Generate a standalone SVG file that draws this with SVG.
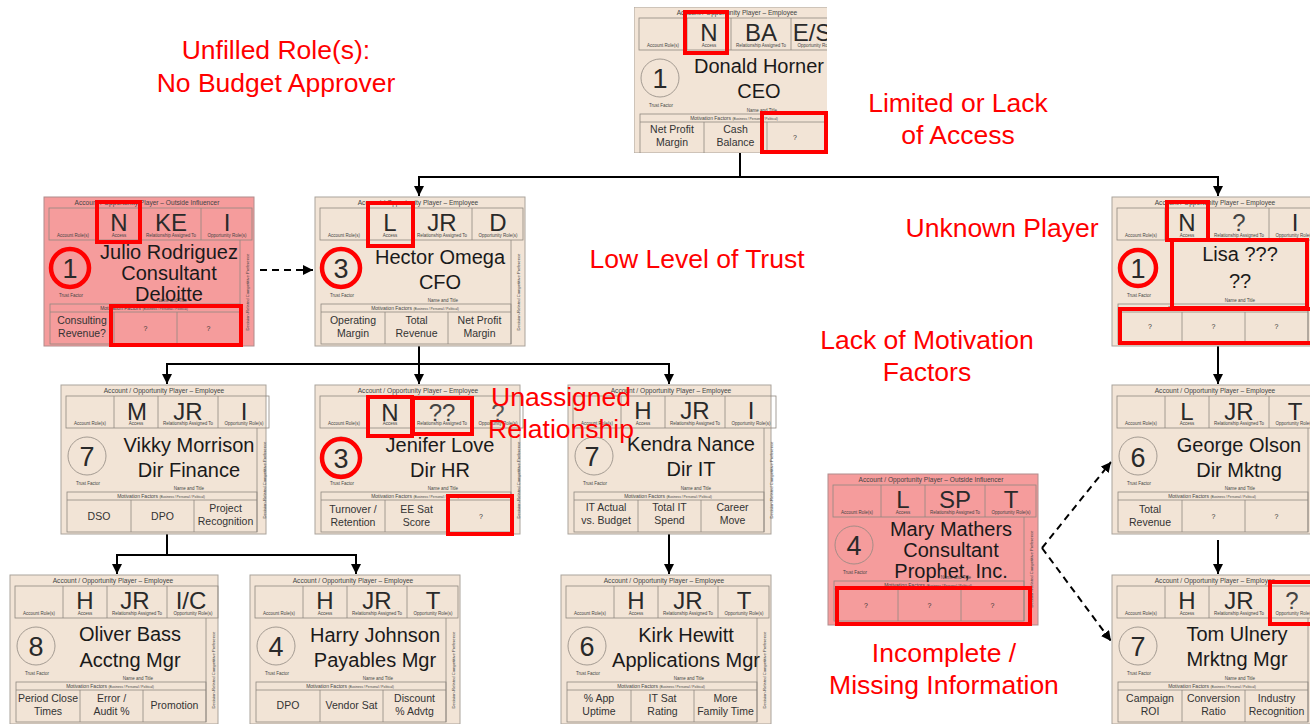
<svg xmlns="http://www.w3.org/2000/svg" xmlns:xlink="http://www.w3.org/1999/xlink" width="1310" height="724" viewBox="0 0 1310 724">
<style>
.bg{fill:#f2e4d6;stroke:#aaa39b;stroke-width:1}
.bgo{fill:#f59c9c;stroke:#b08c8c;stroke-width:1}
.ln{fill:none;stroke:#8f8880;stroke-width:0.8}
text{font-family:"Liberation Sans",Arial,sans-serif}
.lbl{font-size:4.5px;fill:#444;text-anchor:middle}
.hdr{font-size:6.6px;fill:#444;text-anchor:middle}
.big{font-size:24px;fill:#2a2a2a;text-anchor:middle}
.num{font-size:27px;fill:#2a2a2a;text-anchor:middle}
.nm{font-size:20px;fill:#1a1a1a;text-anchor:middle}
.mot{font-size:10.5px;fill:#333;text-anchor:middle}
.q{font-size:7px;fill:#333;text-anchor:middle}
.hl{fill:none;stroke:#ff0000;stroke-width:4}
.ann{font-size:26.5px;fill:#ff0000;text-anchor:middle}
.con{stroke:#000;stroke-width:2;fill:none}
.dash{stroke-dasharray:7 5}
</style>
<defs>
<marker id="ah" viewBox="0 0 10 10" refX="10" refY="5" markerWidth="5" markerHeight="5" orient="auto" markerUnits="strokeWidth">
<path d="M0,0 L10,5 L0,10 z" fill="#000"/>
</marker>
<clipPath id="ceoclip"><rect x="0" y="0" width="193" height="146"/></clipPath>
<g id="frame">
<rect class="ln" x="5" y="11" width="203" height="32"/>
<path class="ln" d="M53,11V43M97,11V43M157,11V43M196,43V147M6,115H196M70,115V147M133,115V147"/>
<rect class="ln" x="6" y="107" width="190" height="40"/>
<circle class="ln" cx="26" cy="71" r="19"/>
<text class="lbl" x="29" y="40">Account Role(s)</text>
<text class="lbl" x="75" y="40">Access</text>
<text class="lbl" x="127" y="40">Relationship Assigned To</text>
<text class="lbl" x="183" y="40">Opportunity Role(s)</text>
<text class="lbl" x="27" y="100">Trust Factor</text>
<text class="lbl" x="128" y="105">Name and Title</text>
<text class="lbl" x="100" y="113" style="font-size:5px">Motivation Factors <tspan style="font-size:3.3px">(Business / Personal / Political)</tspan></text>
<text class="lbl" transform="translate(205,95) rotate(-90)" style="font-size:4.2px">Decision-Related Competitive Preference</text>
</g>
</defs>

<g id="annotations">
<text class="ann" x="276" y="59">Unfilled Role(s):</text>
<text class="ann" x="276" y="92">No Budget Approver</text>
<text class="ann" x="958" y="112">Limited or Lack</text>
<text class="ann" x="958" y="144">of Access</text>
<text class="ann" x="1002" y="237">Unknown Player</text>
<text class="ann" x="697" y="268">Low Level of Trust</text>
<text class="ann" x="927" y="349">Lack of Motivation</text>
<text class="ann" x="927" y="381">Factors</text>
<text class="ann" x="944" y="662">Incomplete /</text>
<text class="ann" x="944" y="694">Missing Information</text>
</g>

<g id="connectors">
<path class="con" d="M740,152V177"/>
<path class="con" d="M419,177H1218"/>
<path class="con" d="M419,176V196" marker-end="url(#ah)"/>
<path class="con" d="M1218,176V196" marker-end="url(#ah)"/>
<path class="con dash" d="M260,270H313" marker-end="url(#ah)"/>
<path class="con" d="M419,346V364"/>
<path class="con" d="M167,364H669"/>
<path class="con" d="M167,363V384" marker-end="url(#ah)"/>
<path class="con" d="M419,363V384" marker-end="url(#ah)"/>
<path class="con" d="M669,363V384" marker-end="url(#ah)"/>
<path class="con" d="M167,534V555"/>
<path class="con" d="M117,555H356"/>
<path class="con" d="M117,554V574" marker-end="url(#ah)"/>
<path class="con" d="M356,554V574" marker-end="url(#ah)"/>
<path class="con" d="M669,534V574" marker-end="url(#ah)"/>
<path class="con" d="M1218,346V384" marker-end="url(#ah)"/>
<path class="con" d="M1218,540V574" marker-end="url(#ah)"/>
<path class="con dash" d="M1042,548L1111,462" marker-end="url(#ah)"/>
<path class="con dash" d="M1042,548L1111,641" marker-end="url(#ah)"/>
</g>

<g id="ceo" transform="translate(634,7)">
<g clip-path="url(#ceoclip)">
<rect class="bg" x="0" y="0" width="210" height="146"/>
<text class="hdr" x="103" y="8">Account / Opportunity Player – Employee</text>
<use xlink:href="#frame"/>
<text class="big" x="75" y="34">N</text>
<text class="big" x="127" y="34">BA</text>
<text class="big" x="178" y="34">E/S</text>
<text class="num" x="26" y="81">1</text>
<text class="nm" x="125" y="66">Donald Horner</text>
<text class="nm" x="125" y="91">CEO</text>
<text class="mot" x="38" y="126">Net Profit</text>
<text class="mot" x="38" y="139">Margin</text>
<text class="mot" x="101.5" y="126">Cash</text>
<text class="mot" x="101.5" y="139">Balance</text>
<text class="q" x="161" y="133">?</text>
</g>
<rect class="hl" x="51" y="5" width="42" height="41"/>
<rect class="hl" x="128" y="106" width="64" height="39"/>
</g>

<g id="julio" transform="translate(44,197)">
<rect class="bgo" x="0" y="0" width="210" height="149"/>
<text class="hdr" x="103" y="8">Account / Opportunity Player – Outside Influencer</text>
<use xlink:href="#frame"/>
<text class="big" x="75" y="34">N</text>
<text class="big" x="127" y="34">KE</text>
<text class="big" x="183" y="34">I</text>
<circle class="hl" cx="26" cy="71" r="19" style="stroke-width:4.5"/>
<text class="num" x="26" y="81">1</text>
<text class="nm" x="125" y="62">Julio Rodriguez</text>
<text class="nm" x="125" y="83">Consultant</text>
<text class="nm" x="125" y="104">Deloitte</text>
<text class="mot" x="38" y="127">Consulting</text>
<text class="mot" x="38" y="140">Revenue?</text>
<text class="q" x="101.5" y="134">?</text>
<text class="q" x="164.5" y="134">?</text>
<rect class="hl" x="53" y="5" width="43" height="40"/>
<rect class="hl" x="67" y="109" width="130" height="39"/>
</g>

<g id="hector" transform="translate(315,197)">
<rect class="bg" x="0" y="0" width="210" height="149"/>
<text class="hdr" x="103" y="8">Account / Opportunity Player – Employee</text>
<use xlink:href="#frame"/>
<text class="big" x="75" y="34">L</text>
<text class="big" x="127" y="34">JR</text>
<text class="big" x="183" y="34">D</text>
<circle class="hl" cx="26" cy="71" r="19" style="stroke-width:4.5"/>
<text class="num" x="26" y="81">3</text>
<text class="nm" x="125" y="67">Hector Omega</text>
<text class="nm" x="125" y="92">CFO</text>
<text class="mot" x="38" y="127">Operating</text>
<text class="mot" x="38" y="140">Margin</text>
<text class="mot" x="101.5" y="127">Total</text>
<text class="mot" x="101.5" y="140">Revenue</text>
<text class="mot" x="164.5" y="127">Net Profit</text>
<text class="mot" x="164.5" y="140">Margin</text>
<rect class="hl" x="53" y="6" width="45" height="43"/>
</g>

<g id="lisa" transform="translate(1112,197)">
<rect class="bg" x="0" y="0" width="210" height="149"/>
<text class="hdr" x="103" y="8">Account / Opportunity Player – Employee</text>
<use xlink:href="#frame"/>
<text class="big" x="75" y="34">N</text>
<text class="big" x="127" y="34" style="fill:#444">?</text>
<text class="big" x="183" y="34">I</text>
<circle class="hl" cx="26" cy="71" r="18" style="stroke-width:4.5"/>
<text class="num" x="26" y="81">1</text>
<text class="nm" x="128" y="64">Lisa ???</text>
<text class="nm" x="128" y="91">??</text>
<text class="q" x="38" y="132">?</text>
<text class="q" x="101.5" y="132">?</text>
<text class="q" x="164.5" y="132">?</text>
<rect class="hl" x="55" y="5" width="41" height="38"/>
<rect class="hl" x="60" y="43" width="135" height="68"/>
<rect class="hl" x="8" y="112" width="192" height="34"/>
</g>

<g id="vikky" transform="translate(61,385)">
<rect class="bg" x="0" y="0" width="205" height="149"/>
<text class="hdr" x="103" y="8">Account / Opportunity Player – Employee</text>
<use xlink:href="#frame"/>
<text class="big" x="76" y="35">M</text>
<text class="big" x="127" y="35">JR</text>
<text class="big" x="183" y="35">I</text>
<text class="num" x="26" y="81">7</text>
<text class="nm" x="128" y="67">Vikky Morrison</text>
<text class="nm" x="128" y="92">Dir Finance</text>
<text class="mot" x="38" y="135">DSO</text>
<text class="mot" x="101.5" y="135">DPO</text>
<text class="mot" x="164.5" y="127">Project</text>
<text class="mot" x="164.5" y="140">Recognition</text>
</g>

<g id="jenifer" transform="translate(315,385)">
<rect class="bg" x="0" y="0" width="205" height="149"/>
<text class="hdr" x="103" y="8">Account / Opportunity Player – Employee</text>
<use xlink:href="#frame"/>
<text class="big" x="75" y="36">N</text>
<text class="big" x="127" y="36" style="fill:#444">??</text>
<text class="big" x="183" y="36" style="fill:#555">?</text>
<circle class="hl" cx="26" cy="73" r="19" style="stroke-width:4.5"/>
<text class="num" x="26" y="83">3</text>
<text class="nm" x="125" y="67">Jenifer Love</text>
<text class="nm" x="125" y="92">Dir HR</text>
<text class="mot" x="38" y="128">Turnover /</text>
<text class="mot" x="38" y="141">Retention</text>
<text class="mot" x="101.5" y="128">EE Sat</text>
<text class="mot" x="101.5" y="141">Score</text>
<text class="q" x="166" y="134">?</text>
<rect class="hl" x="53" y="12" width="44" height="39"/>
<rect class="hl" x="98" y="13" width="59" height="36"/>
<rect class="hl" x="133" y="111" width="64" height="38"/>
</g>

<g id="kendra" transform="translate(568,385)">
<rect class="bg" x="0" y="0" width="203" height="149"/>
<text class="hdr" x="103" y="8">Account / Opportunity Player – Employee</text>
<use xlink:href="#frame"/>
<text class="big" x="75" y="34">H</text>
<text class="big" x="127" y="34">JR</text>
<text class="big" x="183" y="34">I</text>
<text class="num" x="24" y="81">7</text>
<text class="nm" x="123" y="66">Kendra Nance</text>
<text class="nm" x="123" y="91">Dir IT</text>
<text class="mot" x="38" y="126">IT Actual</text>
<text class="mot" x="38" y="139">vs. Budget</text>
<text class="mot" x="101.5" y="126">Total IT</text>
<text class="mot" x="101.5" y="139">Spend</text>
<text class="mot" x="164.5" y="126">Career</text>
<text class="mot" x="164.5" y="139">Move</text>
</g>

<g id="annot2">
<text class="ann" x="561" y="406">Unassigned</text>
<text class="ann" x="561" y="438">Relationship</text>
</g>

<g id="george" transform="translate(1112,385)">
<rect class="bg" x="0" y="0" width="210" height="149"/>
<text class="hdr" x="103" y="8">Account / Opportunity Player – Employee</text>
<use xlink:href="#frame"/>
<text class="big" x="75" y="35">L</text>
<text class="big" x="127" y="35">JR</text>
<text class="big" x="183" y="35">T</text>
<text class="num" x="26" y="82">6</text>
<text class="nm" x="127" y="67">George Olson</text>
<text class="nm" x="127" y="92">Dir Mktng</text>
<text class="mot" x="38" y="128">Total</text>
<text class="mot" x="38" y="141">Revenue</text>
<text class="q" x="101.5" y="134">?</text>
<text class="q" x="164.5" y="134">?</text>
</g>

<g id="mary" transform="translate(828,474)">
<rect class="bgo" x="0" y="0" width="210" height="151"/>
<text class="hdr" x="103" y="8">Account / Opportunity Player – Outside Influencer</text>
<use xlink:href="#frame"/>
<text class="big" x="75" y="34">L</text>
<text class="big" x="127" y="34">SP</text>
<text class="big" x="183" y="34">T</text>
<text class="num" x="26" y="81">4</text>
<text class="nm" x="123" y="62">Mary Mathers</text>
<text class="nm" x="123" y="83">Consultant</text>
<text class="nm" x="123" y="104">Prophet, Inc.</text>
<text class="q" x="38" y="134">?</text>
<text class="q" x="101.5" y="134">?</text>
<text class="q" x="164.5" y="134">?</text>
<rect class="hl" x="9" y="114" width="193" height="36"/>
</g>

<g id="oliver" transform="translate(10,575)">
<rect class="bg" x="0" y="0" width="208" height="149"/>
<text class="hdr" x="103" y="8">Account / Opportunity Player – Employee</text>
<use xlink:href="#frame"/>
<text class="big" x="75" y="34">H</text>
<text class="big" x="125" y="34">JR</text>
<text class="big" x="181" y="34">I/C</text>
<text class="num" x="26" y="81">8</text>
<text class="nm" x="120" y="66">Oliver Bass</text>
<text class="nm" x="120" y="92">Acctng Mgr</text>
<text class="mot" x="38" y="127">Period Close</text>
<text class="mot" x="38" y="140">Times</text>
<text class="mot" x="101.5" y="127">Error /</text>
<text class="mot" x="101.5" y="140">Audit %</text>
<text class="mot" x="164.5" y="134">Promotion</text>
</g>

<g id="harry" transform="translate(250,575)">
<rect class="bg" x="0" y="0" width="210" height="149"/>
<text class="hdr" x="103" y="8">Account / Opportunity Player – Employee</text>
<use xlink:href="#frame"/>
<text class="big" x="75" y="34">H</text>
<text class="big" x="127" y="34">JR</text>
<text class="big" x="183" y="34">T</text>
<text class="num" x="26" y="81">4</text>
<text class="nm" x="125" y="67">Harry Johnson</text>
<text class="nm" x="125" y="92">Payables Mgr</text>
<text class="mot" x="38" y="134">DPO</text>
<text class="mot" x="101.5" y="134">Vendor Sat</text>
<text class="mot" x="164.5" y="127">Discount</text>
<text class="mot" x="164.5" y="140">% Advtg</text>
</g>

<g id="kirk" transform="translate(561,575)">
<rect class="bg" x="0" y="0" width="210" height="149"/>
<text class="hdr" x="103" y="8">Account / Opportunity Player – Employee</text>
<use xlink:href="#frame"/>
<text class="big" x="75" y="34">H</text>
<text class="big" x="127" y="34">JR</text>
<text class="big" x="183" y="34">T</text>
<text class="num" x="26" y="81">6</text>
<text class="nm" x="125" y="67">Kirk Hewitt</text>
<text class="nm" x="125" y="92">Applications Mgr</text>
<text class="mot" x="38" y="127">% App</text>
<text class="mot" x="38" y="140">Uptime</text>
<text class="mot" x="101.5" y="127">IT Sat</text>
<text class="mot" x="101.5" y="140">Rating</text>
<text class="mot" x="164.5" y="127">More</text>
<text class="mot" x="164.5" y="140">Family Time</text>
</g>

<g id="tom" transform="translate(1112,575)">
<rect class="bg" x="0" y="0" width="210" height="149"/>
<text class="hdr" x="103" y="8">Account / Opportunity Player – Employee</text>
<use xlink:href="#frame"/>
<text class="big" x="75" y="34">H</text>
<text class="big" x="127" y="34">JR</text>
<text class="big" x="180" y="34" style="fill:#444">?</text>
<text class="num" x="26" y="81">7</text>
<text class="nm" x="125" y="66">Tom Ulnery</text>
<text class="nm" x="125" y="91">Mrktng Mgr</text>
<text class="mot" x="38" y="127">Campaign</text>
<text class="mot" x="38" y="140">ROI</text>
<text class="mot" x="101.5" y="127">Conversion</text>
<text class="mot" x="101.5" y="140">Ratio</text>
<text class="mot" x="164.5" y="127">Industry</text>
<text class="mot" x="164.5" y="140">Recognition</text>
<rect class="hl" x="158" y="7" width="42" height="42"/>
</g>
</svg>
